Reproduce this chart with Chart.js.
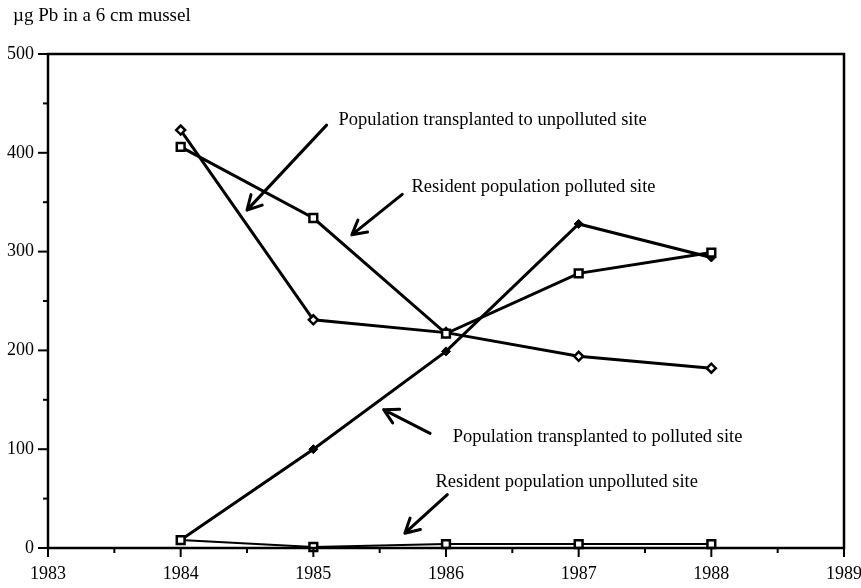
<!DOCTYPE html>
<html>
<head>
<meta charset="utf-8">
<script src="https://cdn.jsdelivr.net/npm/chart.js@4.4.1/dist/chart.umd.min.js"></script>
<style>
    html, body { margin: 0; padding: 0; background: #fff; }
    #wrap { width: 861px; height: 588px; }
</style>
</head>
<body>
<div id="wrap"><canvas id="chart" width="861" height="588"></canvas></div>
<script>
// values (µg Pb per 6 cm mussel)
const years = [1984, 1985, 1986, 1987, 1988];
const transplantedUnpolluted = [423, 231, 218, 194, 182];
const residentPolluted = [406, 334, 217, 278, 299];
const transplantedPolluted = [8, 100, 199, 328, 294];
const residentUnpolluted = [8, 1, 4, 4, 4];

const yearTicks = [1983, 1984, 1985, 1986, 1987, 1988, 1989];
const valueTicks = [0, 100, 200, 300, 400, 500];

const yTitle = 'µg Pb in a 6 cm mussel';

// callout labels, anchored in data units: text left/middle, arrow tail -> tip
const callouts = [
    { text: 'Population transplanted to unpolluted site', tx: 1985.19, ty: 433, ax: 1985.10, ay: 428, bx: 1984.50, by: 342 },
    { text: 'Resident population polluted site', tx: 1985.74, ty: 365, ax: 1985.67, ay: 358, bx: 1985.29, by: 317 },
    { text: 'Population transplanted to polluted site', tx: 1986.05, ty: 112, ax: 1985.88, ay: 116, bx: 1985.53, by: 140 },
    { text: 'Resident population unpolluted site', tx: 1985.92, ty: 67, ax: 1986.01, ay: 54, bx: 1985.69, by: 15 }
];

const FONT = '"Liberation Serif", "Times New Roman", serif';

function toPoints(values) {
    return years.map((yr, i) => ({ x: yr, y: values[i] }));
}

const framePlugin = {
    id: 'frame',
    afterDraw(chart) {
        const ctx = chart.ctx;
        const area = chart.chartArea;
        const xs = chart.scales.x;
        const ys = chart.scales.y;
        ctx.save();
        ctx.strokeStyle = '#000';
        ctx.lineCap = 'square';

        // box
        ctx.lineWidth = 2.5;
        ctx.strokeRect(area.left, area.top, area.right - area.left, area.bottom - area.top);

        // y ticks (major every 100, minor at 50)
        ctx.lineWidth = 2;
        for (let v = 0; v <= 500; v += 50) {
            const py = ys.getPixelForValue(v);
            const len = v % 100 === 0 ? 9 : 4;
            ctx.beginPath();
            ctx.moveTo(area.left - len, py);
            ctx.lineTo(area.left, py);
            ctx.stroke();
        }
        // x ticks (major each year, minor at half years)
        for (let t = 1983; t <= 1989; t += 0.5) {
            const px = xs.getPixelForValue(t);
            const len = Number.isInteger(t) ? 8 : 4;
            ctx.beginPath();
            ctx.moveTo(px, area.bottom);
            ctx.lineTo(px, area.bottom + len);
            ctx.stroke();
        }

        // y axis title
        ctx.fillStyle = '#000';
        ctx.font = '19px ' + FONT;
        ctx.textBaseline = 'middle';
        ctx.textAlign = 'left';
        ctx.fillText(yTitle, 13, 16);
        ctx.restore();
    },
    afterDatasetsDraw(chart) {
        const ctx = chart.ctx;
        const xs = chart.scales.x;
        const ys = chart.scales.y;
        ctx.save();
        ctx.fillStyle = '#000';
        ctx.strokeStyle = '#000';
        ctx.font = '18.5px ' + FONT;
        ctx.textBaseline = 'middle';
        ctx.textAlign = 'left';
        ctx.lineWidth = 3;
        ctx.lineCap = 'round';
        ctx.lineJoin = 'round';
        callouts.forEach(c => {
            ctx.fillText(c.text, xs.getPixelForValue(c.tx), ys.getPixelForValue(c.ty));
            const x1 = xs.getPixelForValue(c.ax), y1 = ys.getPixelForValue(c.ay);
            const x2 = xs.getPixelForValue(c.bx), y2 = ys.getPixelForValue(c.by);
            const ang = Math.atan2(y2 - y1, x2 - x1);
            const head = 16, spread = 0.5;
            ctx.beginPath();
            ctx.moveTo(x1, y1);
            ctx.lineTo(x2, y2);
            ctx.moveTo(x2 - head * Math.cos(ang - spread), y2 - head * Math.sin(ang - spread));
            ctx.lineTo(x2, y2);
            ctx.lineTo(x2 - head * Math.cos(ang + spread), y2 - head * Math.sin(ang + spread));
            ctx.stroke();
        });
        ctx.restore();
    }
};

const ctx = document.getElementById('chart').getContext('2d');
new Chart(ctx, {
    type: 'line',
    data: {
        datasets: [
            {
                label: 'Population transplanted to unpolluted site',
                data: toPoints(transplantedUnpolluted),
                order: 2,
                borderColor: '#000',
                borderWidth: 3,
                pointStyle: 'rectRot',
                pointRadius: 4.5,
                pointBackgroundColor: '#fff',
                pointBorderColor: '#000',
                pointBorderWidth: 2.5
            },
            {
                label: 'Resident population polluted site',
                data: toPoints(residentPolluted),
                order: 1,
                borderColor: '#000',
                borderWidth: 3,
                pointStyle: 'rect',
                pointRadius: 5.5,
                pointBackgroundColor: '#fff',
                pointBorderColor: '#000',
                pointBorderWidth: 2.5
            },
            {
                label: 'Population transplanted to polluted site',
                data: toPoints(transplantedPolluted),
                order: 3,
                borderColor: '#000',
                borderWidth: 3,
                pointStyle: 'rectRot',
                pointRadius: 4.5,
                pointBackgroundColor: '#000',
                pointBorderColor: '#000',
                pointBorderWidth: 1
            },
            {
                label: 'Resident population unpolluted site',
                data: toPoints(residentUnpolluted),
                order: 0,
                borderColor: '#000',
                borderWidth: 2,
                pointStyle: 'rect',
                pointRadius: 5.5,
                pointBackgroundColor: '#fff',
                pointBorderColor: '#000',
                pointBorderWidth: 2.5
            }
        ]
    },
    options: {
        responsive: false,
        animation: false,
        clip: false,
        layout: { padding: { top: 54, right: 17, left: 0, bottom: 0 } },
        plugins: {
            legend: { display: false },
            tooltip: { enabled: false },
            title: { display: false }
        },
        scales: {
            x: {
                type: 'linear',
                min: 1983,
                max: 1989,
                afterBuildTicks: scale => { scale.ticks = yearTicks.map(v => ({ value: v })); },
                afterFit: scale => {
                    scale.height = 40;
                    scale.paddingLeft = 0;
                    scale.paddingRight = 0;
                },
                grid: { display: false, drawTicks: false },
                border: { display: false },
                ticks: {
                    color: '#000',
                    font: { family: FONT, size: 18 },
                    padding: 15,
                    maxRotation: 0,
                    callback: v => String(v)
                }
            },
            y: {
                min: 0,
                max: 500,
                afterBuildTicks: scale => { scale.ticks = valueTicks.map(v => ({ value: v })); },
                afterFit: scale => {
                    scale.width = 48;
                    scale.paddingTop = 0;
                    scale.paddingBottom = 0;
                },
                grid: { display: false, drawTicks: false },
                border: { display: false },
                ticks: {
                    color: '#000',
                    font: { family: FONT, size: 18 },
                    padding: 14
                }
            }
        }
    },
    plugins: [framePlugin]
});
</script>
</body>
</html>
